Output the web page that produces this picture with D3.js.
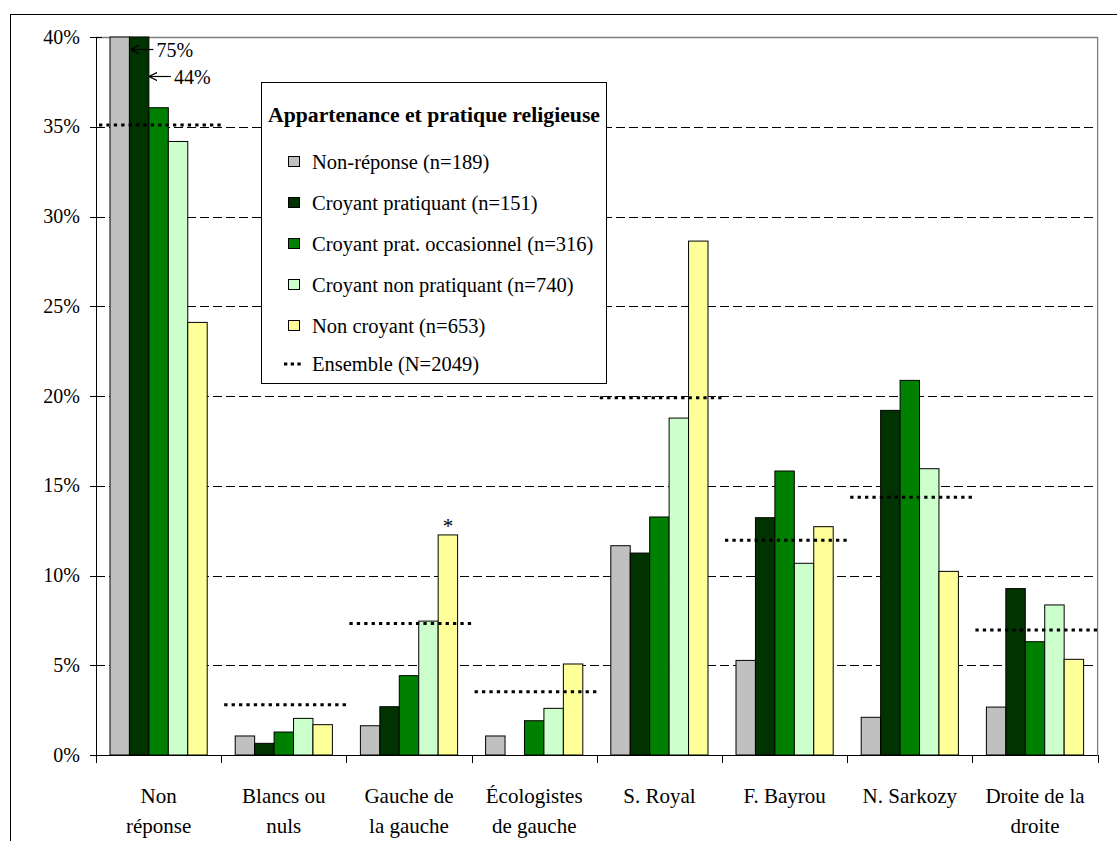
<!DOCTYPE html>
<html><head><meta charset="utf-8">
<script src="https://cdn.jsdelivr.net/npm/d3@7/dist/d3.min.js"></script>
<style>
html,body{margin:0;padding:0;background:#fff;}
</style></head>
<body>
<svg id="chart" width="1117" height="841" font-family="'Liberation Serif','Times New Roman',serif"></svg>
<script>
const categories = ["Non réponse","Blancs ou nuls","Gauche de la gauche","Écologistes de gauche","S. Royal","F. Bayrou","N. Sarkozy","Droite de la droite"];
const categoryLines = [["Non","réponse"],["Blancs ou","nuls"],["Gauche de","la gauche"],["Écologistes","de gauche"],["S. Royal"],["F. Bayrou"],["N. Sarkozy"],["Droite de la","droite"]];
const seriesNames = ["Non-réponse (n=189)","Croyant pratiquant (n=151)","Croyant prat. occasionnel (n=316)","Croyant non pratiquant (n=740)","Non croyant (n=653)"];
const seriesColors = ["#C0C0C0","#003300","#008000","#CCFFCC","#FFFF99"];
const nonReponse = [75, 1.06, 1.63, 1.06, 11.66, 5.27, 2.1, 2.67];
const croyantPratiquant = [44, 0.65, 2.69, 0, 11.25, 13.22, 19.2, 9.27];
const croyantOccasionnel = [36.06, 1.28, 4.42, 1.91, 13.26, 15.82, 20.87, 6.31];
const croyantNonPratiquant = [34.18, 2.04, 7.46, 2.6, 18.77, 10.68, 15.95, 8.36];
const nonCroyant = [24.1, 1.69, 12.26, 5.07, 28.63, 12.72, 10.23, 5.33];
const ensemble = [35.1, 2.8, 7.32, 3.53, 19.9, 11.96, 14.36, 6.96];
const ensembleName = "Ensemble (N=2049)";
const legendTitle = "Appartenance et pratique religieuse";
const yTicks = [0,5,10,15,20,25,30,35,40];
const overflowLabels = ["75%","44%"];
const starLabel = "*";

const series = [nonReponse, croyantPratiquant, croyantOccasionnel, croyantNonPratiquant, nonCroyant];

const svg = d3.select("#chart");
const L = 96, R = 1097.6, T = 37, B = 755;

// outer frame
svg.append("rect").attr("x",10.5).attr("y",14.5).attr("width",1200).attr("height",1000)
  .attr("fill","none").attr("stroke","#000").attr("stroke-width",1);

const x = d3.scaleBand().domain(categories).range([L,R]).padding(0);
const bw = x.bandwidth();
const x1 = d3.scaleBand().domain(d3.range(series.length)).range([14, bw-14]).padding(0);
const y = d3.scaleLinear().domain([0,40]).range([B,T]).clamp(true);

// gridlines
svg.append("g").selectAll("line").data(yTicks.filter(t=>t>0 && t<40)).join("line")
  .attr("x1",L).attr("x2",R).attr("y1",d=>Math.round(y(d))+0.5).attr("y2",d=>Math.round(y(d))+0.5)
  .attr("stroke","#000").attr("stroke-width",1).attr("stroke-dasharray","9,4");

// plot border (top/right)
svg.append("path").attr("d",`M${L},${T+0.5}H${R}V${B}`).attr("fill","none")
  .attr("stroke","#808080").attr("stroke-width",1.3);

// bars
const bars = [];
series.forEach((s,si)=>s.forEach((v,ci)=>{ if(v>0) bars.push({si,ci,v}); }));
svg.append("g").selectAll("rect").data(bars).join("rect")
  .attr("x",d=>x(categories[d.ci])+x1(d.si))
  .attr("y",d=>y(d.v))
  .attr("width",x1.bandwidth())
  .attr("height",d=>B-y(d.v))
  .attr("fill",d=>seriesColors[d.si]).attr("stroke","#000").attr("stroke-width",1);

// ensemble dotted lines
svg.append("g").selectAll("line").data(ensemble).join("line")
  .attr("x1",(d,i)=>x(categories[i])+3).attr("x2",(d,i)=>x(categories[i])+bw)
  .attr("y1",d=>y(d)).attr("y2",d=>y(d))
  .attr("stroke","#000").attr("stroke-width",3).attr("stroke-dasharray","3.3,4.1");

// y axis
const yAxis = svg.append("g");
yAxis.append("line").attr("x1",L+0.5).attr("x2",L+0.5).attr("y1",T).attr("y2",B+8).attr("stroke","#000");
yAxis.selectAll("line.t").data(yTicks).join("line").attr("class","t")
  .attr("x1",L-6).attr("x2",L+6).attr("y1",d=>Math.round(y(d))+0.5).attr("y2",d=>Math.round(y(d))+0.5).attr("stroke","#000");
yAxis.selectAll("text").data(yTicks).join("text")
  .attr("x",80).attr("y",d=>y(d)+6.5).attr("text-anchor","end").attr("font-size",20).attr("fill","#000")
  .text(d=>d+"%");

// x axis
const xAxis = svg.append("g");
xAxis.append("line").attr("x1",L).attr("x2",R).attr("y1",B+0.5).attr("y2",B+0.5).attr("stroke","#000");
xAxis.selectAll("line.t").data(categories.map(c=>x(c)).concat([R])).join("line").attr("class","t")
  .attr("x1",d=>Math.round(d)+0.5).attr("x2",d=>Math.round(d)+0.5).attr("y1",B).attr("y2",B+8).attr("stroke","#000");
const catG = xAxis.selectAll("text").data(categories).join("text")
  .attr("text-anchor","middle").attr("font-size",21).attr("fill","#000");
catG.each(function(c,i){
  const t = d3.select(this);
  categoryLines[i].forEach((ln,k)=>{
    t.append("tspan").attr("x",x(c)+bw/2).attr("y",803+k*30).text(ln);
  });
});

// overflow annotations
const defs = svg.append("defs");
defs.append("marker").attr("id","arr").attr("viewBox","0 0 10 10").attr("refX",9).attr("refY",5)
  .attr("markerWidth",7).attr("markerHeight",7).attr("orient","auto-start-reverse")
  .append("path").attr("d","M0,0L10,5L0,10").attr("fill","none").attr("stroke","#000").attr("stroke-width",1.5);
const c0 = x(categories[0]);
const ann = [
  {tip: c0+x1(1)+2, start: c0+x1(1)+24, yy: T+12.5, label: overflowLabels[0]},
  {tip: c0+x1(2)+1, start: c0+x1(2)+22, yy: T+39.5, label: overflowLabels[1]}
];
ann.forEach(a=>{
  svg.append("line").attr("x1",a.start).attr("x2",a.tip).attr("y1",a.yy).attr("y2",a.yy)
    .attr("stroke","#000").attr("stroke-width",1.2).attr("marker-end","url(#arr)");
  svg.append("text").attr("x",a.start+3).attr("y",a.yy+7).attr("font-size",20).text(a.label);
});

// star above Gauche de la gauche / non croyant
svg.append("text").attr("x",x(categories[2])+x1(4)+x1.bandwidth()/2).attr("y",y(nonCroyant[2])-2)
  .attr("text-anchor","middle").attr("font-size",21).text(starLabel);

// legend
const lg = svg.append("g");
lg.append("rect").attr("x",261.5).attr("y",82.5).attr("width",345).attr("height",301)
  .attr("fill","#fff").attr("stroke","#000").attr("stroke-width",1);
lg.append("text").attr("x",434).attr("y",122).attr("text-anchor","middle").attr("font-size",20)
  .attr("font-weight","bold").attr("textLength",332).attr("lengthAdjust","spacingAndGlyphs").text(legendTitle);
const rowY = [162,203,244,285,326];
seriesNames.forEach((n,i)=>{
  lg.append("rect").attr("x",288.5).attr("y",rowY[i]-5.5).attr("width",11).attr("height",10)
    .attr("fill",seriesColors[i]).attr("stroke","#000").attr("stroke-width",1);
  lg.append("text").attr("x",312).attr("y",rowY[i]+6.5).attr("font-size",20.5).text(n);
});
lg.append("line").attr("x1",284).attr("x2",301).attr("y1",364).attr("y2",364)
  .attr("stroke","#000").attr("stroke-width",3).attr("stroke-dasharray","3.3,3.4");
lg.append("text").attr("x",312).attr("y",370.5).attr("font-size",20.5).text(ensembleName);
</script>
</body></html>
